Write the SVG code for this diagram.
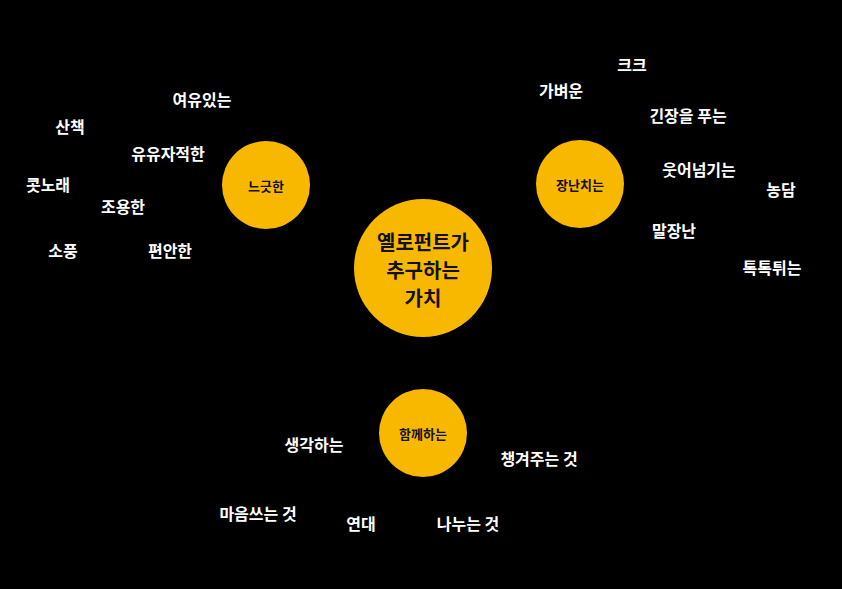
<svg xmlns="http://www.w3.org/2000/svg" width="842" height="589" viewBox="0 0 842 589">
<style>
.c{fill:#F9B800}
.w{fill:#fff;font-family:"Noto Sans CJK KR","Noto Sans",sans-serif;font-size:16px;font-weight:bold;text-anchor:middle;dominant-baseline:central}
.k{fill:#111;font-family:"Noto Sans CJK KR","Noto Sans",sans-serif;font-size:13px;font-weight:bold;text-anchor:middle;dominant-baseline:central}
.m{fill:#111;font-family:"Noto Sans CJK KR","Noto Sans",sans-serif;font-size:20px;font-weight:bold;text-anchor:middle;dominant-baseline:central}
</style>
<rect width="842" height="589" fill="#000"/>
<g id="connectors"></g>
<g id="center"><circle class="c" cx="423" cy="268" r="69"/><text class="m" x="423" y="241">옐로펀트가</text><text class="m" x="423" y="269">추구하는</text><text class="m" x="423" y="297">가치</text></g>
<g id="n1"><circle class="c" cx="266" cy="185" r="44"/><text class="k" x="266" y="185">느긋한</text></g>
<g id="n2"><circle class="c" cx="580" cy="184" r="44"/><text class="k" x="580" y="184">장난치는</text></g>
<g id="n3"><circle class="c" cx="423" cy="433" r="44"/><text class="k" x="423" y="433">함께하는</text></g>
<g id="words">
<text class="w" x="202" y="99">여유있는</text><text class="w" x="70" y="126">산책</text><text class="w" x="168" y="153">유유자적한</text><text class="w" x="48" y="184">콧노래</text><text class="w" x="123" y="206">조용한</text><text class="w" x="63" y="250">소풍</text><text class="w" x="170" y="250">편안한</text>
<text class="w" x="632" y="64">크크</text><text class="w" x="561" y="90">가벼운</text><text class="w" x="688" y="115">긴장을 푸는</text><text class="w" x="699" y="169">웃어넘기는</text><text class="w" x="781" y="189">농담</text><text class="w" x="674" y="230">말장난</text><text class="w" x="772" y="267">톡톡튀는</text>
<text class="w" x="314" y="444">생각하는</text><text class="w" x="539" y="458">챙겨주는 것</text><text class="w" x="258" y="513">마음쓰는 것</text><text class="w" x="361" y="523">연대</text><text class="w" x="468" y="523">나누는 것</text>
</g>
</svg>
